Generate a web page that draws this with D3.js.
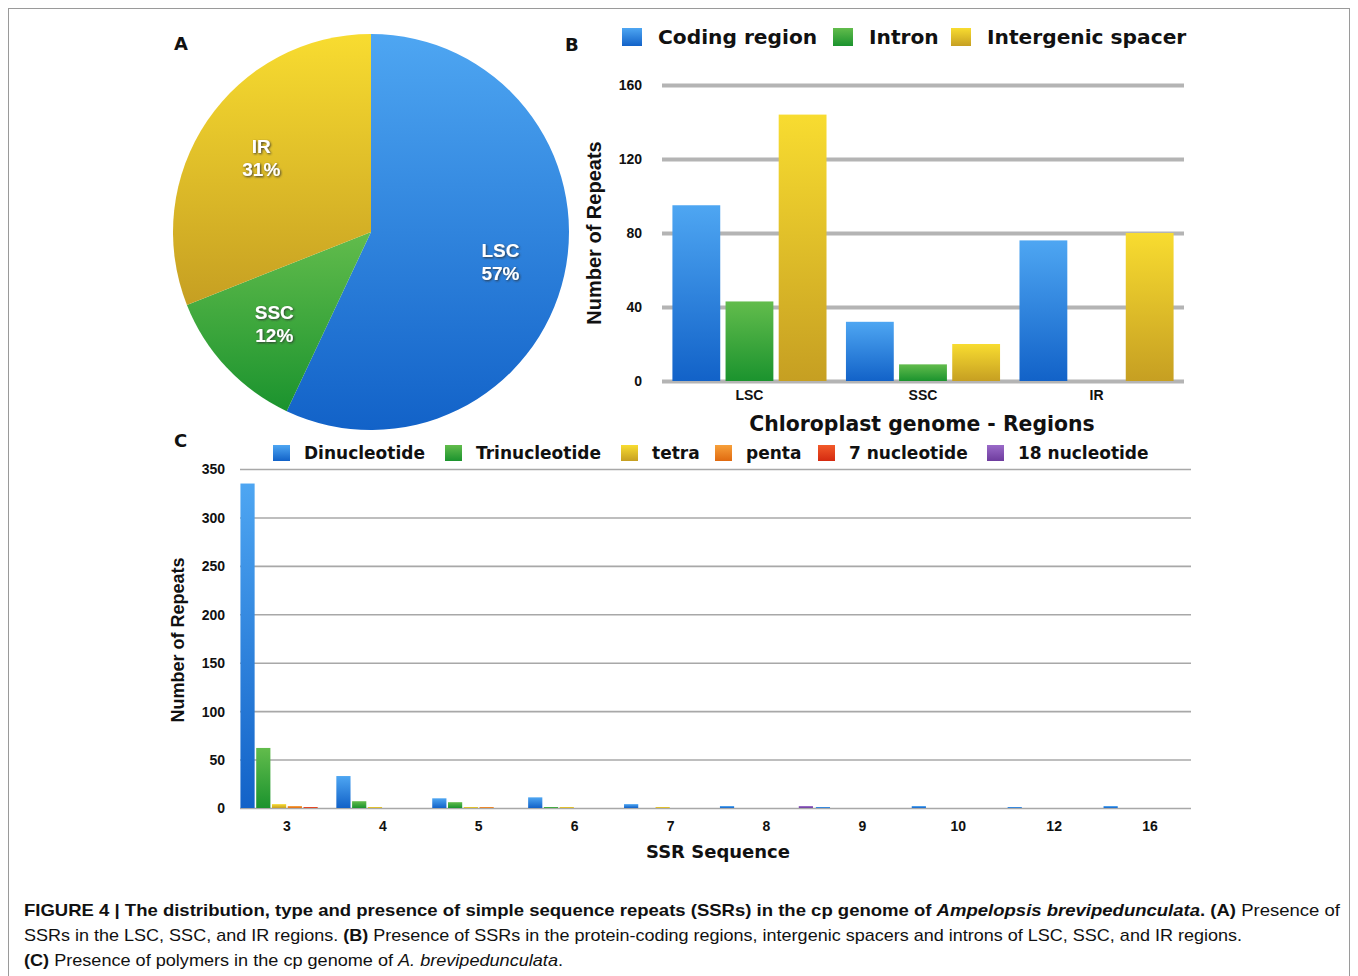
<!DOCTYPE html>
<html>
<head>
    <title>SSR distribution D3.js</title>
    <script src="https://d3js.org/d3.v7.min.js"></script>
    <style>
        body { margin: 0; background: #fff; }
        text { font-family: "DejaVu Sans", sans-serif; font-weight: bold; fill: #111; }
        .cap text, text.cap { font-family: "Liberation Sans", Arial, sans-serif; }
    </style>
</head>
<body>
<div id="chart-container"></div>
<script>
    // panel A
    const pieLabels = ['LSC', 'SSC', 'IR'];
    const pieValues = [57, 12, 31];

    // panel B
    const regions = ['LSC', 'SSC', 'IR'];
    const regionSeries = ['Coding region', 'Intron', 'Intergenic spacer'];
    const codingValues = [95, 32, 76];
    const intronValues = [43, 9, 0];
    const spacerValues = [144, 20, 80];
    const regionTicks = [0, 40, 80, 120, 160];

    // panel C
    const ssrLengths = ['3', '4', '5', '6', '7', '8', '9', '10', '12', '16'];
    const polymerTypes = ['Dinucleotide', 'Trinucleotide', 'tetra', 'penta', '7 nucleotide', '18 nucleotide'];
    const diValues = [335, 33, 10, 11, 4, 2, 1, 2, 1, 2];
    const triValues = [62, 7, 6, 1, 0, 0, 0, 0, 0, 0];
    const tetraValues = [4, 1, 1, 1, 1, 0, 0, 0, 0, 0];
    const pentaValues = [2, 0, 1, 0, 0, 0, 0, 0, 0, 0];
    const nuc7Values = [1, 0, 0, 0, 0, 0, 0, 0, 0, 0];
    const nuc18Values = [0, 0, 0, 0, 0, 2, 0, 0, 0, 0];
    const ssrTicks = [0, 50, 100, 150, 200, 250, 300, 350];

    const width = 1358;
    const height = 976;

    const svg = d3.select('#chart-container')
        .append('svg')
        .attr('width', width)
        .attr('height', height);

    const defs = svg.append('defs');
    function grad(id, top, bottom) {
        const g = defs.append('linearGradient').attr('id', id)
            .attr('x1', 0).attr('y1', 0).attr('x2', 0).attr('y2', 1);
        g.append('stop').attr('offset', '0%').attr('stop-color', top);
        g.append('stop').attr('offset', '100%').attr('stop-color', bottom);
        return `url(#${id})`;
    }
    const blue = grad('gBlue', '#4ea6f2', '#1262c8');
    const green = grad('gGreen', '#62bc4c', '#1b932e');
    const yellow = grad('gYellow', '#f8dc30', '#c69f22');
    const orange = grad('gOrange', '#f7a03a', '#e06a10');
    const red = grad('gRed', '#f25a2a', '#d42a10');
    const purple = grad('gPurple', '#9a6ac8', '#6e3c9e');

    const shadow = defs.append('filter').attr('id', 'shadow')
        .attr('x', '-20%').attr('y', '-20%').attr('width', '140%').attr('height', '140%');
    shadow.append('feDropShadow').attr('dx', 1).attr('dy', 1).attr('stdDeviation', 1.2)
        .attr('flood-color', '#333').attr('flood-opacity', 0.9);

    // frame
    svg.append('rect').attr('x', 8.5).attr('y', 8.5).attr('width', 1341).attr('height', 980)
        .attr('fill', 'none').attr('stroke', '#9a9a9a').attr('stroke-width', 1);

    // ---------- A: pie ----------
    const pieColors = [blue, green, yellow];
    const radius = 198;
    const pieG = svg.append('g').attr('transform', 'translate(371,232)');
    const arcs = d3.pie().sort(null)(pieValues);
    const arc = d3.arc().innerRadius(0).outerRadius(radius);
    const labelArc = d3.arc().innerRadius(radius * 0.67).outerRadius(radius * 0.67);

    pieG.selectAll('path')
        .data(arcs)
        .enter()
        .append('path')
        .attr('d', arc)
        .attr('fill', (d, i) => pieColors[i]);

    const pl = pieG.selectAll('.pl')
        .data(arcs)
        .enter()
        .append('text')
        .attr('class', 'pl')
        .attr('transform', d => `translate(${labelArc.centroid(d)})`)
        .attr('text-anchor', 'middle')
        .attr('filter', 'url(#shadow)')
        .style('fill', '#fff')
        .style('font-family', '"Liberation Sans", Arial, sans-serif')
        .style('font-size', '19px');
    pl.append('tspan').attr('x', 0).attr('dy', -4).text((d, i) => pieLabels[i]);
    pl.append('tspan').attr('x', 0).attr('dy', 23).text(d => d.value + '%');

    svg.append('text').attr('x', 174).attr('y', 50).style('font-size', '18px').text('A');
    svg.append('text').attr('x', 565).attr('y', 51).style('font-size', '18px').text('B');
    svg.append('text').attr('x', 174).attr('y', 447).style('font-size', '18px').text('C');

    // ---------- B: grouped bars ----------
    const bColors = [blue, green, yellow];
    const bSeries = [codingValues, intronValues, spacerValues];
    const bLeft = 662, bRight = 1184, bTop = 85, bBottom = 381;

    const xB = d3.scaleBand().domain(regions).range([bLeft, bRight])
        .paddingInner(0.112).paddingOuter(0.06);
    const xBin = d3.scaleBand().domain(regionSeries).range([0, xB.bandwidth()]).paddingInner(0.1);
    const yB = d3.scaleLinear().domain([0, 160]).range([bBottom, bTop]);

    const gB = svg.append('g');
    gB.append('g')
        .attr('transform', `translate(${bLeft},0)`)
        .call(d3.axisLeft(yB).tickValues(regionTicks).tickSize(-(bRight - bLeft)).tickFormat(''))
        .call(g => g.select('.domain').remove())
        .call(g => g.selectAll('line').attr('stroke', '#b4b4b4').attr('stroke-width', 4));

    gB.append('g')
        .attr('transform', `translate(${bLeft - 17},0)`)
        .call(d3.axisLeft(yB).tickValues(regionTicks).tickSize(0))
        .call(g => g.select('.domain').remove())
        .call(g => g.selectAll('text').style('font-size', '14px')
            .style('font-family', '"Liberation Sans", Arial, sans-serif').attr('dy', '0.35em'));

    regions.forEach((r, ri) => {
        gB.selectAll(null)
            .data(bSeries.map((s, si) => ({ s: regionSeries[si], v: s[ri], c: bColors[si] })))
            .enter()
            .append('rect')
            .attr('x', d => xB(r) + xBin(d.s))
            .attr('y', d => yB(d.v))
            .attr('width', xBin.bandwidth())
            .attr('height', d => yB(0) - yB(d.v))
            .attr('fill', d => d.c);
    });

    gB.append('g')
        .attr('transform', `translate(0,${bBottom + 6})`)
        .call(d3.axisBottom(xB).tickSize(0))
        .call(g => g.select('.domain').remove())
        .call(g => g.selectAll('text').style('font-size', '14px')
            .style('font-family', '"Liberation Sans", Arial, sans-serif'));

    gB.append('text').attr('x', 922).attr('y', 431).attr('text-anchor', 'middle')
        .style('font-size', '20.4px').text('Chloroplast genome - Regions');
    gB.append('text').attr('transform', 'translate(601,233) rotate(-90)').attr('text-anchor', 'middle')
        .style('font-family', '"Liberation Sans", Arial, sans-serif')
        .style('font-size', '20px').text('Number of Repeats');

    const legB = [{ x: 622, t: 658 }, { x: 833, t: 869 }, { x: 951, t: 987 }];
    regionSeries.forEach((s, i) => {
        gB.append('rect').attr('x', legB[i].x).attr('y', 28).attr('width', 20).attr('height', 18)
            .attr('fill', bColors[i]);
        gB.append('text').attr('x', legB[i].t).attr('y', 44).style('font-size', '20.2px').text(s);
    });

    // ---------- C: grouped bars ----------
    const cColors = [blue, green, yellow, orange, red, purple];
    const cSeries = [diValues, triValues, tetraValues, pentaValues, nuc7Values, nuc18Values];
    const cLeft = 240, cRight = 1191, cTop = 469, cBottom = 808;

    const xC = d3.scaleBand().domain(ssrLengths).range([239, 1198]).paddingInner(0.03).paddingOuter(0.015);
    const xCin = d3.scaleBand().domain(polymerTypes).range([0, xC.bandwidth()]).paddingInner(0.1);
    const yC = d3.scaleLinear().domain([0, 350]).range([cBottom, cTop]);

    const gC = svg.append('g');
    gC.append('g')
        .attr('transform', `translate(${cLeft},0)`)
        .call(d3.axisLeft(yC).tickValues(ssrTicks).tickSize(-(cRight - cLeft)).tickFormat(''))
        .call(g => g.select('.domain').remove())
        .call(g => g.selectAll('line').attr('stroke', '#a8a8a8').attr('stroke-width', 1.6));

    gC.append('g')
        .attr('transform', `translate(${cLeft - 12},0)`)
        .call(d3.axisLeft(yC).tickValues(ssrTicks).tickSize(0))
        .call(g => g.select('.domain').remove())
        .call(g => g.selectAll('text').style('font-size', '14px')
            .style('font-family', '"Liberation Sans", Arial, sans-serif').attr('dy', '0.35em'));

    ssrLengths.forEach((k, ki) => {
        gC.selectAll(null)
            .data(cSeries.map((s, si) => ({ s: polymerTypes[si], v: s[ki], c: cColors[si] })))
            .enter()
            .append('rect')
            .attr('x', d => xC(k) + xCin(d.s))
            .attr('y', d => yC(d.v))
            .attr('width', xCin.bandwidth())
            .attr('height', d => yC(0) - yC(d.v))
            .attr('fill', d => d.c);
    });

    gC.append('g')
        .attr('transform', `translate(0,${cBottom + 10})`)
        .call(d3.axisBottom(xC).tickSize(0))
        .call(g => g.select('.domain').remove())
        .call(g => g.selectAll('text').style('font-size', '14px')
            .style('font-family', '"Liberation Sans", Arial, sans-serif'));

    gC.append('text').attr('x', 718).attr('y', 858).attr('text-anchor', 'middle')
        .style('font-size', '18px').text('SSR Sequence');
    gC.append('text').attr('transform', 'translate(184,640) rotate(-90)').attr('text-anchor', 'middle')
        .style('font-family', '"Liberation Sans", Arial, sans-serif')
        .style('font-size', '18px').text('Number of Repeats');

    const legC = [273, 445, 621, 715, 818, 987];
    polymerTypes.forEach((s, i) => {
        gC.append('rect').attr('x', legC[i]).attr('y', 445).attr('width', 17).attr('height', 16)
            .attr('fill', cColors[i]);
        gC.append('text').attr('x', legC[i] + 31).attr('y', 459).style('font-size', '17px').text(s);
    });

    // ---------- caption ----------
    const cap = svg.append('g').attr('class', 'cap');
    const l1 = cap.append('text').attr('x', 24).attr('y', 916).attr('textLength', 1316)
        .attr('lengthAdjust', 'spacingAndGlyphs').style('font-size', '17px');
    l1.append('tspan').text('FIGURE 4 | The distribution, type and presence of simple sequence repeats (SSRs) in the cp genome of ');
    l1.append('tspan').style('font-style', 'italic').text('Ampelopsis brevipedunculata');
    l1.append('tspan').text('. (A) ');
    l1.append('tspan').style('font-weight', 'normal').text('Presence of');

    const l2 = cap.append('text').attr('x', 24).attr('y', 941).attr('textLength', 1218)
        .attr('lengthAdjust', 'spacingAndGlyphs').style('font-size', '17px').style('font-weight', 'normal');
    l2.append('tspan').text('SSRs in the LSC, SSC, and IR regions. ');
    l2.append('tspan').style('font-weight', 'bold').text('(B)');
    l2.append('tspan').text(' Presence of SSRs in the protein-coding regions, intergenic spacers and introns of LSC, SSC, and IR regions.');

    const l3 = cap.append('text').attr('x', 24).attr('y', 966).attr('textLength', 539)
        .attr('lengthAdjust', 'spacingAndGlyphs').style('font-size', '17px').style('font-weight', 'normal');
    l3.append('tspan').style('font-weight', 'bold').text('(C)');
    l3.append('tspan').text(' Presence of polymers in the cp genome of ');
    l3.append('tspan').style('font-style', 'italic').text('A. brevipedunculata');
    l3.append('tspan').text('.');
</script>
</body>
</html>
